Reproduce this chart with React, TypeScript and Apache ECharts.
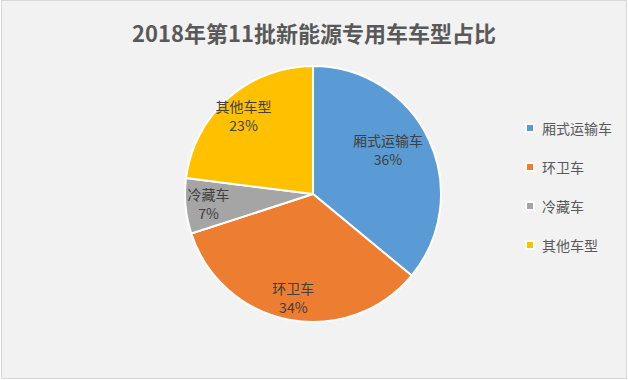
import React, { useEffect, useRef } from "react";
import * as echarts from "echarts";

const titleText = "2018年第11批新能源专用车车型占比";
const categories = ["厢式运输车", "环卫车", "冷藏车", "其他车型"];
const values = [36, 34, 7, 23];
const colors = ["#5B9BD5", "#ED7D31", "#A5A5A5", "#FFC000"];

const FONT = "'Noto Sans CJK SC', 'Microsoft YaHei', sans-serif";

export default function App() {
  const ref = useRef<HTMLDivElement>(null);
  useEffect(() => {
    document.body.style.margin = "0";
    const chart = echarts.init(ref.current!, null, { renderer: "svg" });
    const data = categories.map((name, i) => ({
      name,
      value: values[i],
      itemStyle: { color: colors[i] },
    }));
    chart.setOption({
      animation: false,
      backgroundColor: "#F2F2F2",
      title: {
        text: titleText,
        left: "center",
        top: 15,
        textStyle: {
          fontFamily: FONT,
          fontSize: 22,
          fontWeight: "bold",
          color: "#595959",
        },
      },
      legend: {
        orient: "vertical",
        left: 518,
        top: 115,
        icon: "rect",
        itemWidth: 8,
        itemHeight: 8,
        itemGap: 25,
        data: categories,
        textStyle: {
          fontFamily: FONT,
          fontSize: 14,
          color: "#595959",
          padding: [0, 0, 0, 3],
        },
      },
      series: [
        {
          type: "pie",
          center: [311, 193],
          radius: [0, 128],
          startAngle: 90,
          clockwise: true,
          data,
          label: { show: false },
          labelLine: { show: false },
          itemStyle: { borderColor: "#FFFFFF", borderWidth: 2 },
          silent: true,
        },
        {
          type: "pie",
          center: [311, 193],
          radius: [0, 204],
          startAngle: 90,
          clockwise: true,
          silent: true,
          data: categories.map((name, i) => ({
            name,
            value: values[i],
            itemStyle: { color: "rgba(0,0,0,0)" },
            label: i === 0 ? { offset: [-20, 0] } : undefined,
          })),
          label: {
            show: true,
            position: "inside",
            formatter: "{b}\n{d}%",
            fontFamily: FONT,
            fontSize: 14,
            lineHeight: 19,
            color: "#404040",
          },
          labelLine: { show: false },
        },
      ],
    });
    return () => chart.dispose();
  }, []);
  return (
    <div
      style={{
        position: "fixed",
        left: 1,
        top: 0,
        width: 626,
        height: 379,
        border: "1px solid #D9D9D9",
        boxSizing: "border-box",
        background: "#F2F2F2",
      }}
    >
      <div ref={ref} style={{ width: 624, height: 377 }} />
    </div>
  );
}
